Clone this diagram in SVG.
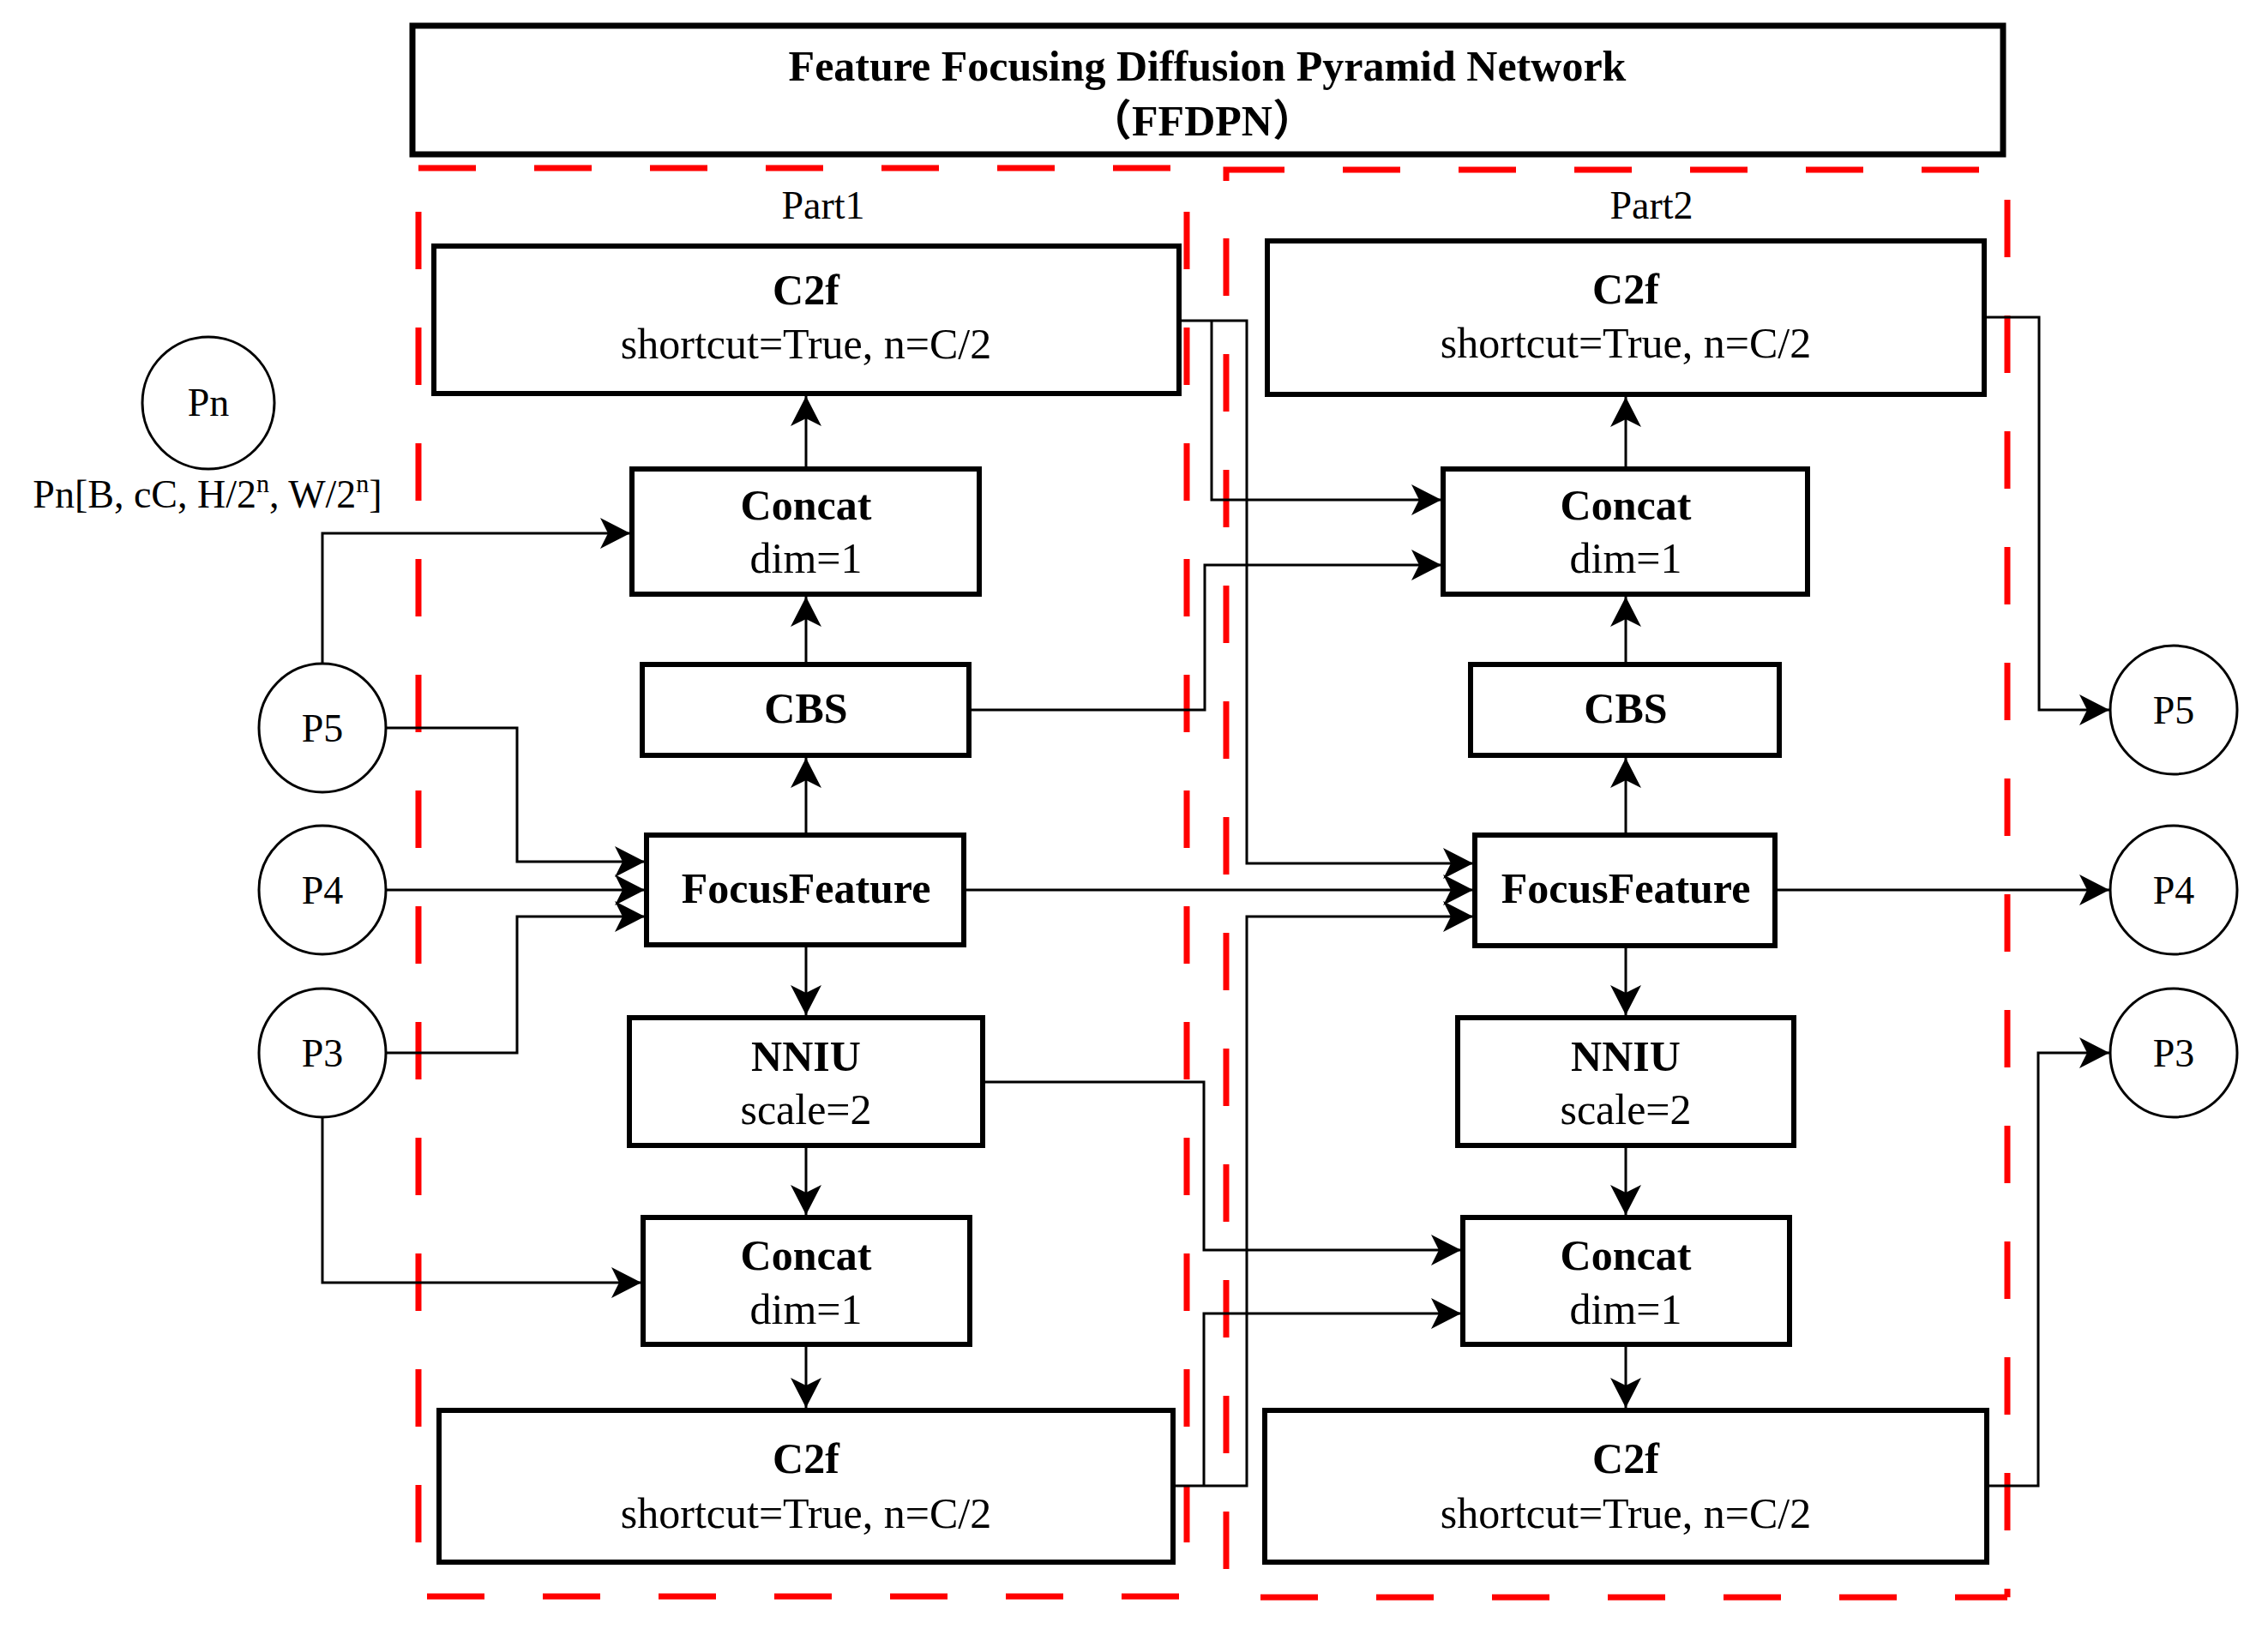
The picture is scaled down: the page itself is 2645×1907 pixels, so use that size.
<svg xmlns="http://www.w3.org/2000/svg" width="2645" height="1907" viewBox="0 0 2645 1907">
<defs>
<marker id="arr" markerUnits="userSpaceOnUse" markerWidth="36" markerHeight="38" refX="35" refY="18" orient="auto" viewBox="0 0 36 36">
<path d="M0,0 L35,18 L0,36 L9,18 Z" fill="#000"/>
</marker>
</defs>
<style>
text{font-family:"Liberation Serif","Times New Roman","Noto Sans CJK SC",serif;fill:#000;text-anchor:middle}
.b{font-size:50px;font-weight:bold}
.r{font-size:50px}
.s{font-size:46px}
.node rect{fill:#fff;stroke:#000;stroke-width:6}
.circ ellipse{fill:#fff;stroke:#000;stroke-width:3}
.dash{stroke:#f00;stroke-width:7;stroke-dasharray:67 68;fill:none}
#connectors path{fill:none;stroke:#000;stroke-width:3;marker-end:url(#arr)}
</style>
<rect width="2645" height="1907" fill="#fff"/>

<g id="title">
<rect x="481" y="30" width="1855" height="150" fill="#fff" stroke="#000" stroke-width="7"/>
<text class="b" x="1408" y="94">Feature Focusing Diffusion Pyramid Network</text>
<text class="b" x="1402" y="158">（FFDPN）</text>
</g>

<g id="part1-frame">
<line class="dash" x1="488" y1="196" x2="1384" y2="196"/>
<line class="dash" x1="488" y1="247" x2="488" y2="1862"/>
<line class="dash" x1="1384" y1="247" x2="1384" y2="1862"/>
<line class="dash" x1="498" y1="1862" x2="1384" y2="1862"/>
<text class="s" x="960" y="255">Part1</text>
</g>
<g id="part2-frame">
<path d="M1430,211 V198 H1498" stroke="#f00" stroke-width="7" fill="none"/>
<line class="dash" x1="1566" y1="198" x2="2341" y2="198"/>
<line class="dash" x1="1430" y1="278" x2="1430" y2="1863"/>
<line class="dash" x1="2341" y1="233" x2="2341" y2="1863"/>
<line class="dash" x1="1470" y1="1863" x2="2341" y2="1863"/>
<text class="s" x="1926" y="255">Part2</text>
</g>

<g id="connectors">
<path d="M376,774 V622 H735"/>
<path d="M450,849 H603 V1005 H752"/>
<path d="M450,1038 H752"/>
<path d="M450,1228 H603 V1069 H752"/>
<path d="M376,1302 V1496 H748"/>
<path d="M940,974 V884"/>
<path d="M940,775 V696"/>
<path d="M940,547 V462"/>
<path d="M940,1102 V1184"/>
<path d="M940,1336 V1417"/>
<path d="M940,1568 V1642"/>
<path d="M1375,374 H1454 V1007 H1718"/>
<path d="M1413,374 V583 H1681"/>
<path d="M1130,828 H1405 V659 H1681"/>
<path d="M1124,1038 H1718"/>
<path d="M1146,1262 H1404 V1458 H1704"/>
<path d="M1368,1733 H1454 V1069 H1718"/>
<path d="M1404,1733 V1532 H1704"/>
<path d="M1896,974 V884"/>
<path d="M1896,775 V696"/>
<path d="M1896,547 V463"/>
<path d="M1896,1103 V1184"/>
<path d="M1896,1336 V1417"/>
<path d="M1896,1568 V1642"/>
<path d="M2314,370 H2378 V828 H2460"/>
<path d="M2070,1038 H2460"/>
<path d="M2317,1733 H2377 V1228 H2460"/>
</g>

<g id="legend-pn" class="circ">
<ellipse cx="243" cy="470" rx="77" ry="77"/>
<text class="s" x="243" y="485">Pn</text>
<text class="s" x="242" y="592">Pn[B, cC, H/2<tspan font-size="30" dy="-18">n</tspan><tspan dy="18">, W/2</tspan><tspan font-size="30" dy="-18">n</tspan><tspan dy="18">]</tspan></text>
</g>
<g id="in-p5" class="circ"><ellipse cx="376" cy="849" rx="74" ry="75"/><text class="s" x="376" y="865">P5</text></g>
<g id="in-p4" class="circ"><ellipse cx="376" cy="1038" rx="74" ry="75"/><text class="s" x="376" y="1054">P4</text></g>
<g id="in-p3" class="circ"><ellipse cx="376" cy="1228" rx="74" ry="75"/><text class="s" x="376" y="1244">P3</text></g>
<g id="out-p5" class="circ"><ellipse cx="2535" cy="828" rx="74" ry="75"/><text class="s" x="2535" y="844">P5</text></g>
<g id="out-p4" class="circ"><ellipse cx="2535" cy="1038" rx="74" ry="75"/><text class="s" x="2535" y="1054">P4</text></g>
<g id="out-p3" class="circ"><ellipse cx="2535" cy="1228" rx="74" ry="75"/><text class="s" x="2535" y="1244">P3</text></g>

<g id="p1-c2f-top" class="node"><rect x="506" y="287" width="869" height="172"/><text class="b" x="940" y="355">C2f</text><text class="r" x="940" y="418">shortcut=True, n=C/2</text></g>
<g id="p1-concat-top" class="node"><rect x="737" y="547" width="405" height="146"/><text class="b" x="940" y="606">Concat</text><text class="r" x="940" y="668">dim=1</text></g>
<g id="p1-cbs" class="node"><rect x="749" y="775" width="381" height="106"/><text class="b" x="940" y="843">CBS</text></g>
<g id="p1-focus" class="node"><rect x="754" y="974" width="370" height="128"/><text class="b" x="940" y="1053">FocusFeature</text></g>
<g id="p1-nniu" class="node"><rect x="734" y="1187" width="412" height="149"/><text class="b" x="940" y="1249">NNIU</text><text class="r" x="940" y="1311">scale=2</text></g>
<g id="p1-concat-bottom" class="node"><rect x="750" y="1420" width="381" height="148"/><text class="b" x="940" y="1481">Concat</text><text class="r" x="940" y="1544">dim=1</text></g>
<g id="p1-c2f-bottom" class="node"><rect x="512" y="1645" width="856" height="177"/><text class="b" x="940" y="1718">C2f</text><text class="r" x="940" y="1782">shortcut=True, n=C/2</text></g>

<g id="p2-c2f-top" class="node"><rect x="1478" y="281" width="836" height="179"/><text class="b" x="1896" y="354">C2f</text><text class="r" x="1896" y="417">shortcut=True, n=C/2</text></g>
<g id="p2-concat-top" class="node"><rect x="1683" y="547" width="425" height="146"/><text class="b" x="1896" y="606">Concat</text><text class="r" x="1896" y="668">dim=1</text></g>
<g id="p2-cbs" class="node"><rect x="1715" y="775" width="360" height="106"/><text class="b" x="1896" y="843">CBS</text></g>
<g id="p2-focus" class="node"><rect x="1720" y="974" width="350" height="129"/><text class="b" x="1896" y="1053">FocusFeature</text></g>
<g id="p2-nniu" class="node"><rect x="1700" y="1187" width="392" height="149"/><text class="b" x="1896" y="1249">NNIU</text><text class="r" x="1896" y="1311">scale=2</text></g>
<g id="p2-concat-bottom" class="node"><rect x="1706" y="1420" width="381" height="148"/><text class="b" x="1896" y="1481">Concat</text><text class="r" x="1896" y="1544">dim=1</text></g>
<g id="p2-c2f-bottom" class="node"><rect x="1475" y="1645" width="842" height="177"/><text class="b" x="1896" y="1718">C2f</text><text class="r" x="1896" y="1782">shortcut=True, n=C/2</text></g>
</svg>
